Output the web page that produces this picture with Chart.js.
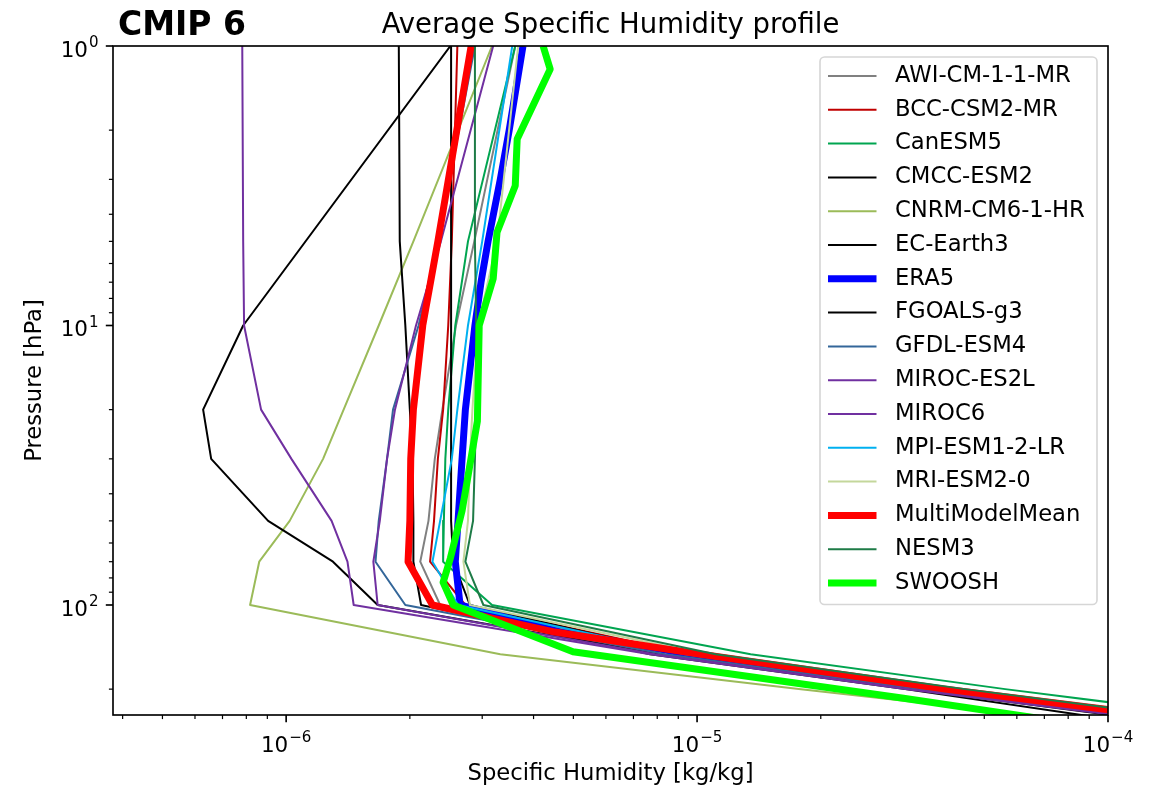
<!DOCTYPE html>
<html>
<head>
<meta charset="utf-8">
<script src="https://cdn.jsdelivr.net/npm/chart.js@4.4.1/dist/chart.umd.min.js"></script>
<style>
  html, body { margin: 0; padding: 0; background: #fff; }
  canvas { display: block; }
</style>
</head>
<body>
<canvas id="humidityChart" width="1158" height="788"></canvas>
<script>
// pressure levels [hPa]
const pStd = [1, 5, 10, 20, 30, 50, 70, 100, 150, 200, 250];
const pEra5 = [1, 2, 3, 5, 7, 10, 20, 30, 50, 70, 100, 125, 150, 200, 250];
const pMean = [1, 5, 10, 20, 30, 50, 70, 100, 125, 150, 200, 250];
const pFgoals = [1, 10, 20, 30, 50, 70, 100, 150, 200, 250];
const pSwoosh = [1, 1.21, 2.15, 3.16, 4.64, 6.81, 10, 22, 46, 68, 83, 100, 147, 215, 261];

// specific humidity [kg/kg]
const awi = [3.61e-6, 2.87e-6, 2.59e-6, 2.40e-6, 2.30e-6, 2.22e-6, 2.12e-6, 2.37e-6, 9.89e-6, 4.13e-5, 1.34e-4];
const bcc = [2.61e-6, 2.53e-6, 2.48e-6, 2.41e-6, 2.34e-6, 2.29e-6, 2.24e-6, 2.73e-6, 9.62e-6, 4.01e-5, 1.27e-4];
const canesm = [3.61e-6, 2.77e-6, 2.58e-6, 2.48e-6, 2.44e-6, 2.42e-6, 2.41e-6, 3.17e-6, 1.35e-5, 5.62e-5, 1.87e-4];
const cmcc = [2.52e-6, 2.52e-6, 2.52e-6, 2.52e-6, 2.52e-6, 2.52e-6, 2.55e-6, 2.80e-6, 9.09e-6, 3.69e-5, 1.20e-4];
const cnrm = [3.17e-6, 2.04e-6, 1.68e-6, 1.38e-6, 1.23e-6, 1.02e-6, 0.86e-6, 0.817e-6, 3.32e-6, 1.79e-5, 6.91e-5];
const ecearth = [1.88e-6, 1.89e-6, 1.95e-6, 2.00e-6, 2.03e-6, 2.04e-6, 2.04e-6, 2.13e-6, 7.69e-6, 3.21e-5, 9.04e-5];
const era5 = [3.77e-6, 3.49e-6, 3.32e-6, 3.10e-6, 2.98e-6, 2.88e-6, 2.73e-6, 2.68e-6, 2.62e-6, 2.58e-6, 2.65e-6, 4.64e-6, 9.62e-6, 3.90e-5, 1.27e-4];
const fgoals = [2.51e-6, 0.786e-6, 0.628e-6, 0.657e-6, 0.904e-6, 1.30e-6, 1.67e-6, 8.13e-6, 3.30e-5, 1.07e-4];
const gfdl = [2.88e-6, 2.34e-6, 2.10e-6, 1.82e-6, 1.76e-6, 1.68e-6, 1.65e-6, 1.95e-6, 8.36e-6, 3.49e-5, 1.13e-4];
const mirocEs2l = [0.782e-6, 0.786e-6, 0.790e-6, 0.869e-6, 1.03e-6, 1.29e-6, 1.41e-6, 1.46e-6, 7.69e-6, 3.21e-5, 1.10e-4];
const miroc6 = [3.19e-6, 2.38e-6, 2.07e-6, 1.84e-6, 1.76e-6, 1.69e-6, 1.63e-6, 1.67e-6, 7.90e-6, 3.30e-5, 1.13e-4];
const mpi = [3.55e-6, 3.00e-6, 2.77e-6, 2.61e-6, 2.53e-6, 2.37e-6, 2.27e-6, 2.62e-6, 9.35e-6, 3.90e-5, 1.27e-4];
const mri = [3.67e-6, 3.26e-6, 2.93e-6, 2.84e-6, 2.80e-6, 2.77e-6, 2.70e-6, 2.80e-6, 1.05e-5, 4.24e-5, 1.38e-4];
const multiMean = [2.82e-6, 2.34e-6, 2.15e-6, 2.04e-6, 2.01e-6, 2.00e-6, 1.98e-6, 2.27e-6, 4.51e-6, 1.02e-5, 4.01e-5, 1.34e-4];
const nesm3 = [2.88e-6, 2.88e-6, 2.90e-6, 2.90e-6, 2.88e-6, 2.85e-6, 2.73e-6, 3.02e-6, 1.11e-5, 4.49e-5, 1.46e-4];
const swoosh = [4.22e-6, 4.39e-6, 3.65e-6, 3.61e-6, 3.26e-6, 3.19e-6, 2.95e-6, 2.92e-6, 2.68e-6, 2.51e-6, 2.41e-6, 2.55e-6, 4.99e-6, 3.15e-5, 7.64e-5];

// axis ticks (base 10, exponent shown as superscript)
const xMajorTicks = [1e-6, 1e-5, 1e-4];
const xTickExponents = ['\u22126', '\u22125', '\u22124'];
const xMinorTicks = [4e-7, 5e-7, 6e-7, 7e-7, 8e-7, 9e-7,
  2e-6, 3e-6, 4e-6, 5e-6, 6e-6, 7e-6, 8e-6, 9e-6,
  2e-5, 3e-5, 4e-5, 5e-5, 6e-5, 7e-5, 8e-5, 9e-5];
const yMajorTicks = [1, 10, 100];
const yTickExponents = ['0', '1', '2'];
const yMinorTicks = [2, 3, 4, 5, 6, 7, 8, 9, 20, 30, 40, 50, 60, 70, 80, 90, 200];

const series = [
  { label: 'AWI-CM-1-1-MR', p: pStd, q: awi, color: '#808080', w: 2 },
  { label: 'BCC-CSM2-MR', p: pStd, q: bcc, color: '#c00000', w: 2 },
  { label: 'CanESM5', p: pStd, q: canesm, color: '#00a550', w: 2 },
  { label: 'CMCC-ESM2', p: pStd, q: cmcc, color: '#000000', w: 2 },
  { label: 'CNRM-CM6-1-HR', p: pStd, q: cnrm, color: '#9bbb59', w: 2 },
  { label: 'EC-Earth3', p: pStd, q: ecearth, color: '#000000', w: 2 },
  { label: 'ERA5', p: pEra5, q: era5, color: '#0000ff', w: 7 },
  { label: 'FGOALS-g3', p: pFgoals, q: fgoals, color: '#000000', w: 2 },
  { label: 'GFDL-ESM4', p: pStd, q: gfdl, color: '#336699', w: 2 },
  { label: 'MIROC-ES2L', p: pStd, q: mirocEs2l, color: '#7030a0', w: 2 },
  { label: 'MIROC6', p: pStd, q: miroc6, color: '#7030a0', w: 2 },
  { label: 'MPI-ESM1-2-LR', p: pStd, q: mpi, color: '#00b0f0', w: 2 },
  { label: 'MRI-ESM2-0', p: pStd, q: mri, color: '#c4d79b', w: 2 },
  { label: 'MultiModelMean', p: pMean, q: multiMean, color: '#ff0000', w: 7 },
  { label: 'NESM3', p: pStd, q: nesm3, color: '#1e7b47', w: 2 },
  { label: 'SWOOSH', p: pSwoosh, q: swoosh, color: '#00ff00', w: 7 }
];

const FONT = '"DejaVu Sans", Verdana, sans-serif';
const TICK_FS = 21.5;

const datasets = series.map((s, i) => ({
  label: s.label,
  data: s.q.map((v, k) => ({ x: v, y: s.p[k] })),
  showLine: true,
  borderColor: s.color,
  backgroundColor: s.color,
  borderWidth: s.w,
  borderJoinStyle: 'round',
  borderCapStyle: 'butt',
  pointRadius: 0,
  pointHoverRadius: 0,
  fill: false,
  tension: 0,
  clip: 0,
  order: series.length - i
}));

// "10" followed by a raised exponent, like matplotlib mathtext
function powerLabel(ctx, exp, x, baseline, align) {
  ctx.font = TICK_FS + 'px ' + FONT;
  const wb = ctx.measureText('10').width;
  ctx.font = (TICK_FS * 0.7) + 'px ' + FONT;
  const we = ctx.measureText(exp).width;
  const total = wb + we + 1;
  let left = x;
  if (align === 'center') left = x - total / 2;
  if (align === 'right') left = x - total;
  ctx.textAlign = 'left';
  ctx.textBaseline = 'alphabetic';
  ctx.font = TICK_FS + 'px ' + FONT;
  ctx.fillText('10', left, baseline);
  ctx.font = (TICK_FS * 0.7) + 'px ' + FONT;
  ctx.fillText(exp, left + wb + 1, baseline - TICK_FS * 0.45);
}

// frame, tick marks, tick labels, legend box and titles
const axesDecor = {
  id: 'axesDecor',
  afterDraw(chart) {
    const { ctx, chartArea: a } = chart;
    const xs = chart.scales.x, ys = chart.scales.y;
    ctx.save();
    ctx.strokeStyle = '#000';
    ctx.fillStyle = '#000';
    const seg = (x1, y1, x2, y2, lw) => {
      ctx.lineWidth = lw;
      ctx.beginPath(); ctx.moveTo(x1, y1); ctx.lineTo(x2, y2); ctx.stroke();
    };
    xMinorTicks.forEach(v => { const px = xs.getPixelForValue(v); seg(px, a.bottom, px, a.bottom + 4.1, 1.2); });
    xMajorTicks.forEach((v, i) => {
      const px = xs.getPixelForValue(v);
      seg(px, a.bottom, px, a.bottom + 7.2, 1.65);
      powerLabel(ctx, xTickExponents[i], px, a.bottom + 37, 'center');
    });
    yMinorTicks.forEach(v => { const py = ys.getPixelForValue(v); seg(a.left, py, a.left - 4.1, py, 1.2); });
    yMajorTicks.forEach((v, i) => {
      const py = ys.getPixelForValue(v);
      seg(a.left, py, a.left - 7.2, py, 1.65);
      powerLabel(ctx, yTickExponents[i], a.left - 14.4, py + 11, 'right');
    });
    ctx.lineWidth = 1.65;
    ctx.strokeRect(a.left, a.top, a.right - a.left, a.bottom - a.top);

    // legend
    const fs = 22.7;
    ctx.font = fs + 'px ' + FONT;
    const pad = 8, handle = 48.5, gap = 18.5, rowH = 33.8;
    const w = 277;
    const h = pad * 2 + series.length * rowH - 0.5 * fs + 2;
    const lx = a.right - 11 - w, ly = a.top + 11;
    ctx.beginPath();
    ctx.roundRect(lx, ly, w, h, 0.2 * fs);
    ctx.fillStyle = 'rgba(255,255,255,0.8)';
    ctx.fill();
    ctx.strokeStyle = 'rgba(204,204,204,0.8)';
    ctx.lineWidth = 1.65;
    ctx.stroke();
    ctx.textBaseline = 'middle';
    ctx.textAlign = 'left';
    chart.data.datasets.forEach((d, i) => {
      const cy = ly + pad + i * rowH + 11;
      ctx.strokeStyle = d.borderColor;
      ctx.lineWidth = d.borderWidth;
      ctx.beginPath(); ctx.moveTo(lx + pad, cy); ctx.lineTo(lx + pad + handle, cy); ctx.stroke();
      ctx.fillStyle = '#000';
      ctx.fillText(d.label, lx + pad + handle + gap, cy);
    });

    // titles
    ctx.fillStyle = '#000';
    ctx.textBaseline = 'alphabetic';
    ctx.textAlign = 'center';
    ctx.font = '27.5px ' + FONT;
    ctx.fillText('Average Specific Humidity profile', (a.left + a.right) / 2, 33);
    ctx.textAlign = 'left';
    ctx.font = 'bold 33px ' + FONT;
    ctx.fillText('CMIP 6', 118, 35);
    ctx.restore();
  }
};

new Chart(document.getElementById('humidityChart'), {
  type: 'scatter',
  data: { datasets },
  options: {
    responsive: false,
    animation: false,
    events: [],
    layout: { padding: { top: 46, right: 50, left: 0, bottom: 0 } },
    plugins: { legend: { display: false }, tooltip: { enabled: false } },
    scales: {
      x: {
        type: 'logarithmic',
        position: 'bottom',
        min: 3.79e-7,
        max: 1e-4,
        afterFit: s => { s.height = 73; },
        grid: { display: false, drawTicks: false },
        border: { display: false },
        ticks: { display: false },
        title: {
          display: true, text: 'Specific Humidity [kg/kg]', color: '#000',
          font: { family: FONT, size: 22.7 }, padding: { top: 0, bottom: 0 }
        }
      },
      y: {
        type: 'logarithmic',
        reverse: true,
        min: 1,
        max: 247.5,
        afterFit: s => { s.width = 113; },
        grid: { display: false, drawTicks: false },
        border: { display: false },
        ticks: { display: false },
        title: {
          display: true, text: 'Pressure [hPa]', color: '#000',
          font: { family: FONT, size: 22.7 }, padding: { top: 21, bottom: 0 }
        }
      }
    }
  },
  plugins: [axesDecor]
});
</script>
</body>
</html>
